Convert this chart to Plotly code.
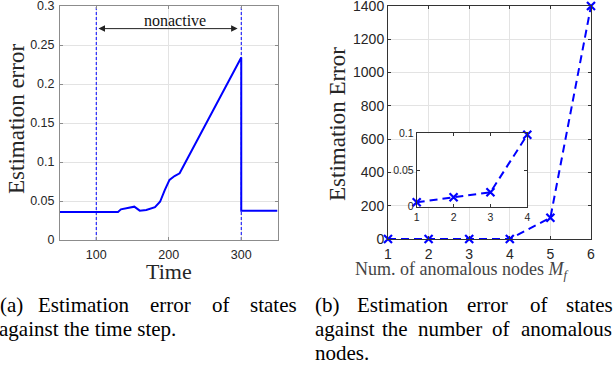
import plotly.graph_objects as go

# ---------------- data ----------------
time_steps = [50, 130, 134, 145, 152.5, 160, 169, 181, 188, 194.5, 201, 208, 215, 300, 300, 350]
est_error_time = [0.036, 0.036, 0.0393, 0.041, 0.0427, 0.0376, 0.0385, 0.042, 0.049, 0.064,
                  0.077, 0.082, 0.0855, 0.234, 0.0376, 0.0376]
nonactive_bounds = [100, 300]

anomalous_nodes = [1, 2, 3, 4, 5, 6]
est_error_nodes = [0.006, 0.013, 0.0196, 0.098, 128, 1400]
inset_nodes = anomalous_nodes[:4]
inset_errors = est_error_nodes[:4]

left_xticks = [100, 200, 300]
left_yticks = [0, 0.05, 0.1, 0.15, 0.2, 0.25, 0.3]
left_yticklabels = ["0", "0.05", "0.1", "0.15", "0.2", "0.25", "0.3"]
right_yticks = [0, 200, 400, 600, 800, 1000, 1200, 1400]
inset_yticks = [0, 0.05, 0.1]
inset_yticklabels = ["0", "0.05", "0.1"]

# ---------------- layout helpers ----------------
W, H = 614, 369


def px(x):
    return x / W


def py(y):
    return 1 - y / H


BLUE = "#0000ff"
TICKC = "#262626"
GRID = "#e3e3e3"
SANS = "Liberation Sans, Arial, sans-serif"
SERIF = "Liberation Serif, Times New Roman, serif"

fig = go.Figure()

# left: error vs time
fig.add_trace(go.Scatter(x=time_steps, y=est_error_time, mode="lines",
                         line=dict(color=BLUE, width=2), xaxis="x", yaxis="y",
                         showlegend=False))
for b in nonactive_bounds:
    fig.add_trace(go.Scatter(x=[b, b], y=[0, 0.3], mode="lines",
                             line=dict(color=BLUE, width=1, dash="3px,2px"),
                             xaxis="x", yaxis="y", showlegend=False))

# right: error vs number of anomalous nodes
fig.add_trace(go.Scatter(x=anomalous_nodes, y=est_error_nodes, mode="lines+markers",
                         line=dict(color=BLUE, width=2, dash="8px,5px"),
                         marker=dict(symbol="x-thin", size=8, line=dict(color=BLUE, width=2.2)),
                         cliponaxis=False, xaxis="x2", yaxis="y2", showlegend=False))
# inset
fig.add_trace(go.Scatter(x=inset_nodes, y=inset_errors, mode="lines+markers",
                         line=dict(color=BLUE, width=2, dash="8px,5px"),
                         marker=dict(symbol="x-thin", size=8, line=dict(color=BLUE, width=2.2)),
                         cliponaxis=False, xaxis="x3", yaxis="y3", showlegend=False))


def axis(size, line_color, **kw):
    d = dict(showline=True, mirror="ticks", ticks="inside", ticklen=3, zeroline=False,
             automargin=False, linecolor=line_color, tickcolor=line_color,
             ticklabeloverflow="allow",
             tickfont=dict(family=SANS, color=TICKC, size=size))
    d.update(kw)
    return d


L_dom_x = [px(60), px(277.5)]
L_dom_y = [py(240), py(6)]
R_dom_x = [px(388), px(591)]
R_dom_y = [py(239), py(6)]
I_dom_x = [px(416.7), px(527.3)]
I_dom_y = [py(206.7), py(133.3)]

fig.update_layout(
    width=W, height=H, margin=dict(l=0, r=0, t=0, b=0, pad=0, autoexpand=False),
    paper_bgcolor="white", plot_bgcolor="white",
    xaxis=axis(12.5, "#8c8c8c", domain=L_dom_x, anchor="y", range=[50, 350],
               tickvals=left_xticks, showgrid=True, gridcolor=GRID, ticklabelstandoff=3),
    yaxis=axis(12.5, "#8c8c8c", domain=L_dom_y, anchor="x", range=[0, 0.3],
               tickvals=left_yticks, ticktext=left_yticklabels, showgrid=True,
               gridcolor=GRID, ticklabelstandoff=2),
    xaxis2=axis(14, "#333333", domain=R_dom_x, anchor="y2", range=[1, 6],
                tickvals=anomalous_nodes, showgrid=True, gridcolor=GRID, ticklabelstandoff=2),
    yaxis2=axis(14, "#333333", domain=R_dom_y, anchor="x2", range=[0, 1400],
                tickvals=right_yticks, showgrid=True, gridcolor=GRID, ticklabelstandoff=0),
    xaxis3=axis(10.5, "#333333", domain=I_dom_x, anchor="y3", range=[1, 4],
                tickvals=inset_nodes, showgrid=False, ticklabelstandoff=1),
    yaxis3=axis(10.5, "#333333", domain=I_dom_y, anchor="x3", range=[0, 0.1],
                tickvals=inset_yticks, ticktext=inset_yticklabels, showgrid=False,
                ticklabelstandoff=0),
)

# white background behind the inset (covers the main grid)
fig.add_shape(type="rect", xref="x2 domain", yref="y2 domain",
              x0=(416.7 - 388) / 203, x1=(527.3 - 388) / 203,
              y0=(239 - 206.7) / 233, y1=(239 - 133.3) / 233,
              fillcolor="white", line=dict(width=0), layer="below")

annotations = []

# double arrow "nonactive"
annotations.append(dict(x=295, y=0.271, ax=101, ay=0.271, xref="x", yref="y",
                        axref="x", ayref="y", text="", showarrow=True,
                        arrowhead=2, startarrowhead=2, arrowside="end+start",
                        arrowsize=1.3, startarrowsize=1.3, arrowwidth=1, arrowcolor="#222222"))
annotations.append(dict(x=209, y=0.281, xref="x", yref="y", text="nonactive",
                        xanchor="center", yanchor="middle",
                        showarrow=False, font=dict(family=SERIF, size=16, color="#111111")))

# axis titles
annotations.append(dict(x=px(17), y=py(119), xref="paper", yref="paper", text="Estimation error",
                        textangle=-90, showarrow=False, xanchor="center", yanchor="middle",
                        font=dict(family=SERIF, size=23, color=TICKC)))
annotations.append(dict(x=px(169), y=py(271), xref="paper", yref="paper", text="Time",
                        showarrow=False, xanchor="center", yanchor="middle",
                        font=dict(family=SERIF, size=22, color=TICKC)))
annotations.append(dict(x=px(337), y=py(124), xref="paper", yref="paper", text="Estimation Error",
                        textangle=-90, showarrow=False, xanchor="center", yanchor="middle",
                        font=dict(family=SERIF, size=23, color=TICKC)))
annotations.append(dict(x=px(461), y=py(270), xref="paper", yref="paper",
                        text="Num. of anomalous nodes <i>M</i><sub><i>f</i></sub>",
                        showarrow=False, xanchor="center", yanchor="middle",
                        font=dict(family=SERIF, size=18, color="#444444")))

# captions (justified, word by word)
caption_words = [
    ("(a)", 0, 305), ("Estimation", 38, 305), ("error", 150, 305), ("of", 212, 305), ("states", 250, 305),
    ("against the time step.", -1, 329),
    ("(b)", 315, 305), ("Estimation", 357, 305), ("error", 467, 305), ("of", 530, 305), ("states", 566, 305),
    ("against", 315, 329), ("the", 382, 329), ("number", 418, 329), ("of", 492, 329), ("anomalous", 521, 329),
    ("nodes.", 315, 353),
]
for word, xx, yy in caption_words:
    annotations.append(dict(x=px(xx), y=py(yy), xref="paper", yref="paper", text=word,
                            xanchor="left", yanchor="middle", showarrow=False,
                            borderpad=0, borderwidth=0,
                            font=dict(family=SERIF, size=21, color="black")))

fig.update_layout(annotations=annotations)

fig.write_html("out.html")
